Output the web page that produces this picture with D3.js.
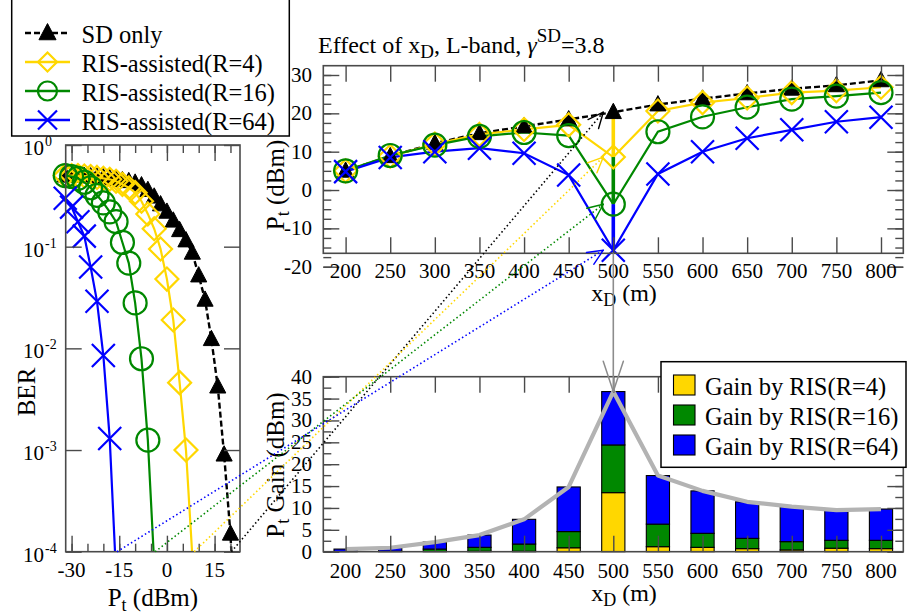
<!DOCTYPE html>
<html>
<head>
<meta charset="utf-8">
<script src="https://cdn.jsdelivr.net/npm/d3@7"></script>
<style>
  html, body { margin: 0; padding: 0; background: #fff; }
  svg { display: block; }
  svg text { font-family: "Liberation Serif", "DejaVu Serif", serif; }
</style>
</head>
<body>
<svg id="chart" width="907" height="616" font-family="Liberation Serif, DejaVu Serif, serif"></svg>
<script>
// ---------- BER versus transmit power (left panel) ----------
const berPtSD  = [-32,-30,-28,-26,-24,-22,-20,-18,-16,-14,-12,-10,-8,-6,-4,-2,0,2,4,6,8,10,12,14,16,18,20,22];
const berSD    = [0.5,0.5,0.5,0.495,0.49,0.485,0.48,0.47,0.46,0.45,0.44,0.425,0.40,0.36,0.31,0.26,0.22,0.18,0.145,0.115,0.087,0.052,0.030,0.0123,0.0042,0.0009,0.00015,0.000008];
const berPtR4  = [-32,-30,-28,-26,-24,-22,-20,-18,-16,-14,-12,-10,-8,-6,-4,-2,0,2,4,6,8];
const berR4    = [0.5,0.5,0.5,0.495,0.49,0.48,0.47,0.46,0.44,0.41,0.38,0.34,0.28,0.21,0.15,0.095,0.048,0.019,0.0046,0.001,0.00009];
const berPtR16 = [-32,-30,-28,-26,-24,-22,-20,-18,-16,-14,-12,-10,-8,-6,-4];
const berR16   = [0.5,0.49,0.47,0.43,0.38,0.32,0.27,0.22,0.176,0.11,0.069,0.028,0.0079,0.00125,0.000076];
const berPtR64 = [-32,-30,-28,-26,-24,-22,-20,-18,-16];
const berR64   = [0.30,0.245,0.176,0.127,0.063,0.029,0.0085,0.0013,0.00006];
const berXTicks = [-30,-15,0,15];
const berDecades = [1e-4,1e-3,1e-2,1e-1,1];

// ---------- required transmit power versus x_D (top right panel) ----------
const xD    = [200,250,300,350,400,450,500,550,600,650,700,750,800];
const ptSD  = [5.0,8.8,12.2,14.8,16.6,18.4,20.3,22.3,23.8,25.2,26.4,27.3,28.6];
const ptR4  = [5.0,8.8,12.0,14.5,15.8,17.0,8.6,20.6,22.8,24.0,25.4,25.9,26.8];
const ptR16 = [5.0,9.0,11.7,14.0,15.0,14.2,-3.7,15.2,19.1,21.6,23.7,24.5,25.4];
const ptR64 = [4.8,8.5,10.0,10.9,9.6,3.9,-15.7,4.2,10.0,13.5,15.7,17.8,19.0];
const ptYTicks = [-20,-10,0,10,20,30];
const focusX = 500;

// ---------- transmit power gains, stacked (bottom right panel) ----------
const gainR4  = [0,0,0,0.1,0.1,0.9,13.5,1.15,1.0,0.7,0.4,0.8,0.7];
const gainR16 = [0,0.1,0.6,0.9,1.65,3.7,10.9,5.15,3.2,2.35,1.9,1.8,1.9];
const gainR64 = [0.6,0.8,1.6,2.8,5.65,10.2,12.2,11.1,9.7,8.35,8.0,6.9,7.15];
const gainYTicks = [0,5,10,15,20,25,30,35,40];

const seriesNames = ["SD only","RIS-assisted(R=4)","RIS-assisted(R=16)","RIS-assisted(R=64)"];
const gainNames = ["Gain by RIS(R=4)","Gain by RIS(R=16)","Gain by RIS(R=64)"];

const COL = { sd: "#000000", r4: "#FFD700", r16: "#008800", r64: "#0000FF", frame: "#4a4a4a", total: "#b3b3b3", arrow: "#8c8c8c" };
const SERIF = "Liberation Serif, DejaVu Serif, serif";

const svg = d3.select("#chart");

// ---------- scales ----------
const xL = d3.scaleLinear().domain([-31.85, 23]).range([65.7, 240]);
const yL = d3.scaleLog().domain([1e-4, 1]).range([551.7, 145]);
const xT = d3.scaleLinear().domain([175, 825]).range([323.3, 903.3]);
const yT = d3.scaleLinear().domain([-20, 30]).range([266.7, 75]);
const yB = d3.scaleLinear().domain([0, 40]).range([551.7, 376.7]);
const topBox = { x0: 323.3, x1: 903.3, y0: 65.7, y1: 253.3 };
const botBox = { x0: 323.3, x1: 903.3, y0: 376.7, y1: 551.7 };

// ---------- helpers ----------
function tickSet(axisFn, scale, values, size, tx, ty) {
  const g = svg.append("g").attr("transform", `translate(${tx},${ty})`)
    .call(axisFn(scale).tickValues(values).tickSize(size).tickFormat(""));
  g.select(".domain").remove();
  g.selectAll("line").attr("stroke", COL.frame).attr("stroke-width", 1.4);
  return g;
}
function frame(x0, y0, x1, y1) {
  svg.append("rect").attr("x", x0).attr("y", y0).attr("width", x1 - x0).attr("height", y1 - y0)
    .attr("fill", "none").attr("stroke", COL.frame).attr("stroke-width", 1.6);
}
function drawMarker(g, type, x, y, s) {
  const h = s / 2;
  if (type === "tri") {
    g.append("path").attr("d", `M${x},${y - h * 1.05}L${x + h * 0.95},${y + h * 0.75}L${x - h * 0.95},${y + h * 0.75}Z`)
      .attr("fill", COL.sd).attr("stroke", COL.sd).attr("stroke-width", 1);
  } else if (type === "dia") {
    g.append("path").attr("d", `M${x},${y - h}L${x + h},${y}L${x},${y + h}L${x - h},${y}Z`)
      .attr("fill", "none").attr("stroke", COL.r4).attr("stroke-width", 2.2);
  } else if (type === "cir") {
    g.append("circle").attr("cx", x).attr("cy", y).attr("r", h)
      .attr("fill", "none").attr("stroke", COL.r16).attr("stroke-width", 2.2);
  } else {
    g.append("path").attr("d", `M${x - h},${y - h}L${x + h},${y + h}M${x - h},${y + h}L${x + h},${y - h}`)
      .attr("fill", "none").attr("stroke", COL.r64).attr("stroke-width", 2.2);
  }
}
function arrowHead(x1, y1, x2, y2, len, ang, color, w) {
  const a = Math.atan2(y2 - y1, x2 - x1);
  [ang, -ang].forEach(d => {
    svg.append("line").attr("x1", x2).attr("y1", y2)
      .attr("x2", x2 - len * Math.cos(a + d)).attr("y2", y2 - len * Math.sin(a + d))
      .attr("stroke", color).attr("stroke-width", w).attr("stroke-linecap", "round");
  });
}
function txt(x, y, s, size, anchor) {
  return svg.append("text").attr("x", x).attr("y", y).attr("font-size", size)
    .attr("font-family", SERIF)
    .attr("text-anchor", anchor || "start").attr("fill", "#000").text(s);
}
function rotText(x, y, size) {
  return svg.append("text").attr("transform", `translate(${x},${y}) rotate(-90)`)
    .attr("font-family", SERIF).attr("font-size", size).attr("text-anchor", "middle");
}

const types = ["tri", "dia", "cir", "x"];
const colors = [COL.sd, COL.r4, COL.r16, COL.r64];

// =====================================================================
// Left panel: BER curves
// =====================================================================
svg.append("defs").append("clipPath").attr("id", "berClip")
  .append("rect").attr("x", 40).attr("y", 145).attr("width", 200).attr("height", 551.7 - 145);

const berSets = [[berPtSD, berSD], [berPtR4, berR4], [berPtR16, berR16], [berPtR64, berR64]];
const berG = svg.append("g");
berSets.forEach(([pts, vals], i) => {
  const data = pts.map((p, k) => [p, vals[k]]);
  const line = d3.line().x(d => xL(d[0])).y(d => yL(d[1]));
  berG.append("path").datum(data).attr("d", line).attr("clip-path", "url(#berClip)")
    .attr("fill", "none").attr("stroke", colors[i]).attr("stroke-width", i === 0 ? 2.4 : 2.2)
    .attr("stroke-dasharray", i === 0 ? "6,3" : null);
  const mg = berG.append("g");
  data.filter(d => d[1] >= 1e-4).forEach(d => drawMarker(mg, types[i], xL(d[0]), yL(d[1]), i === 0 ? 17 : 23));
});

frame(65.7, 145, 240, 551.7);
const berMinor = d3.range(-30, 21, 5);
tickSet(d3.axisBottom, xL, berMinor, -8, 0, 551.7);
tickSet(d3.axisBottom, xL, berXTicks, -16, 0, 551.7);
tickSet(d3.axisTop, xL, berMinor, -8, 0, 145);
tickSet(d3.axisTop, xL, berXTicks, -16, 0, 145);
tickSet(d3.axisLeft, yL, berDecades, -16, 65.7, 0);
tickSet(d3.axisRight, yL, berDecades, -16, 240, 0);

berXTicks.forEach(v => txt(xL(v), 577, String(v), 21, "middle"));
berDecades.forEach(v => {
  const e = Math.round(Math.log10(v));
  const y = yL(v);
  txt(44, y + 10, "10", 21, "end");
  txt(45, y + 1, e === 0 ? "0" : String(e), 14, "start");
});

const ptLabel = txt(xL(-4.4), 606, "P", 25, "middle");
ptLabel.append("tspan").attr("font-size", 18).attr("dy", 5).text("t");
ptLabel.append("tspan").attr("dy", -5).text(" (dBm)");
rotText(35, 392, 25).text("BER");

// =====================================================================
// Top right panel: required P_t versus x_D
// =====================================================================
const ptSets = [ptSD, ptR4, ptR16, ptR64];
const topG = svg.append("g");
ptSets.forEach((vals, i) => {
  const data = xD.map((x, k) => [x, vals[k]]);
  const line = d3.line().x(d => xT(d[0])).y(d => yT(d[1]));
  topG.append("path").datum(data).attr("d", line).attr("fill", "none")
    .attr("stroke", colors[i]).attr("stroke-width", i === 0 ? 2.4 : 2.2)
    .attr("stroke-dasharray", i === 0 ? "6,3" : null);
});
const fi = xD.indexOf(focusX);
for (let i = 1; i < 4; i++) {
  topG.append("line").attr("x1", xT(focusX)).attr("x2", xT(focusX))
    .attr("y1", yT(ptSets[i - 1][fi])).attr("y2", yT(ptSets[i][fi]))
    .attr("stroke", colors[i]).attr("stroke-width", 3.6);
}
ptSets.forEach((vals, i) => {
  const mg = topG.append("g");
  xD.forEach((x, k) => drawMarker(mg, types[i], xT(x), yT(vals[k]), i === 0 ? 17 : 23));
});

frame(topBox.x0, topBox.y0, topBox.x1, topBox.y1);
tickSet(d3.axisBottom, xT, xD, -16, 0, topBox.y1);
tickSet(d3.axisTop, xT, xD, -16, 0, topBox.y0);
const ptMinor = d3.range(-20, 31, 2.5);
tickSet(d3.axisLeft, yT, ptMinor, -8, topBox.x0, 0);
tickSet(d3.axisLeft, yT, ptYTicks, -16, topBox.x0, 0);
tickSet(d3.axisRight, yT, ptMinor, -8, topBox.x1, 0);
tickSet(d3.axisRight, yT, ptYTicks, -16, topBox.x1, 0);

xD.forEach(v => txt(xT(v), 278, String(v), 21, "middle"));
ptYTicks.forEach(v => txt(312, yT(v) + 7, String(v), 21, "end"));

const title = txt(318, 53, "Effect of x", 24, "start");
title.append("tspan").attr("font-size", 19).attr("dy", 5).text("D");
title.append("tspan").attr("dy", -5).text(", L-band, ");
title.append("tspan").attr("font-style", "italic").text("γ");
title.append("tspan").attr("font-size", 19).attr("dy", -11).text("SD");
title.append("tspan").attr("dy", 11).text("=3.8");

const xdTop = txt(624, 301, "x", 24, "middle");
xdTop.append("tspan").attr("font-size", 18).attr("dy", 5).text("D");
xdTop.append("tspan").attr("dy", -5).text(" (m)");

const ptTopLabel = rotText(284, 185, 25).text("P");
ptTopLabel.append("tspan").attr("font-size", 18).attr("dy", 5).text("t");
ptTopLabel.append("tspan").attr("dy", -5).text(" (dBm)");

// =====================================================================
// Bottom right panel: stacked gains
// =====================================================================
const stackRows = xD.map((x, k) => ({ x, r4: gainR4[k], r16: gainR16[k], r64: gainR64[k] }));
const stacked = d3.stack().keys(["r4", "r16", "r64"])(stackRows);
const barW = xT(226) - xT(200);
const barG = svg.append("g");
stacked.forEach((layer, i) => {
  barG.selectAll(null).data(layer).enter().append("rect")
    .attr("x", d => xT(d.data.x) - barW / 2)
    .attr("y", d => yB(d[1]))
    .attr("width", barW)
    .attr("height", d => Math.max(0, yB(d[0]) - yB(d[1])))
    .attr("fill", colors[i + 1]).attr("stroke", "#000").attr("stroke-width", 1.1);
});
const totals = xD.map((x, k) => [x, gainR4[k] + gainR16[k] + gainR64[k]]);
svg.append("path").datum(totals)
  .attr("d", d3.line().x(d => xT(d[0])).y(d => yB(d[1])))
  .attr("fill", "none").attr("stroke", COL.total).attr("stroke-width", 4.2).attr("stroke-linejoin", "round");

frame(botBox.x0, botBox.y0, botBox.x1, botBox.y1);
tickSet(d3.axisBottom, xT, xD, -16, 0, botBox.y1);
tickSet(d3.axisTop, xT, xD, -16, 0, botBox.y0);
const gainMinor = d3.range(0, 40.1, 2.5);
tickSet(d3.axisLeft, yB, gainMinor, -8, botBox.x0, 0);
tickSet(d3.axisLeft, yB, gainYTicks, -16, botBox.x0, 0);
tickSet(d3.axisRight, yB, gainMinor, -8, botBox.x1, 0);
tickSet(d3.axisRight, yB, gainYTicks, -16, botBox.x1, 0);

xD.forEach(v => txt(xT(v), 578, String(v), 21, "middle"));
gainYTicks.forEach(v => txt(312, yB(v) + 7, String(v), 21, "end"));

const xdBot = txt(624, 601, "x", 24, "middle");
xdBot.append("tspan").attr("font-size", 18).attr("dy", 5).text("D");
xdBot.append("tspan").attr("dy", -5).text(" (m)");

const gainLabel = rotText(284, 465, 25).text("P");
gainLabel.append("tspan").attr("font-size", 18).attr("dy", 5).text("t");
gainLabel.append("tspan").attr("dy", -5).text(" Gain (dBm)");

// =====================================================================
// Connectors: BER threshold -> required P_t, and P_t gap -> gain bar
// =====================================================================
ptSets.forEach((vals, i) => {
  const v = vals[fi];
  const x1 = xL(v), y1 = yL(1e-4);
  const x2 = xT(focusX) - 10, y2 = yT(v);
  svg.append("line").attr("x1", x1).attr("y1", y1).attr("x2", x2).attr("y2", y2)
    .attr("stroke", colors[i]).attr("stroke-width", 1.6).attr("stroke-dasharray", "1.5,2.6");
  arrowHead(x1, y1, x2, y2, 17, 0.42, colors[i], 1.4);
});
const totalFocus = totals[fi][1];
svg.append("line").attr("x1", xT(focusX)).attr("x2", xT(focusX))
  .attr("y1", topBox.y1).attr("y2", yB(totalFocus))
  .attr("stroke", COL.arrow).attr("stroke-width", 1.6);
arrowHead(xT(focusX), topBox.y1, xT(focusX), yB(totalFocus), 32, 0.32, COL.arrow, 1.5);

// =====================================================================
// Legends
// =====================================================================
const lg = svg.append("g");
lg.append("rect").attr("x", 11.7).attr("y", -5).attr("width", 277.6).attr("height", 141)
  .attr("fill", "#fff").attr("stroke", "#000").attr("stroke-width", 1.5);
seriesNames.forEach((name, i) => {
  const y = 33 + i * 29;
  lg.append("line").attr("x1", 25).attr("x2", 70).attr("y1", y).attr("y2", y)
    .attr("stroke", colors[i]).attr("stroke-width", 2.4).attr("stroke-dasharray", i === 0 ? "6,3" : null);
  drawMarker(lg, types[i], 47.5, y, i === 0 ? 18 : 19);
  lg.append("text").attr("x", 81.5).attr("y", y + 9.5).attr("font-family", SERIF).attr("font-size", 24.5).text(name);
});

const lg2 = svg.append("g");
lg2.append("rect").attr("x", 661).attr("y", 361.7).attr("width", 245).attr("height", 105.6)
  .attr("fill", "#fff").attr("stroke", "#000").attr("stroke-width", 1.5);
gainNames.forEach((name, i) => {
  const y = 375 + i * 30;
  lg2.append("rect").attr("x", 673.5).attr("y", y).attr("width", 21.5).attr("height", 20)
    .attr("fill", colors[i + 1]).attr("stroke", "#000").attr("stroke-width", 1.1);
  lg2.append("text").attr("x", 705).attr("y", y + 19.5).attr("font-family", SERIF).attr("font-size", 24.5).text(name);
});
</script>
</body>
</html>
